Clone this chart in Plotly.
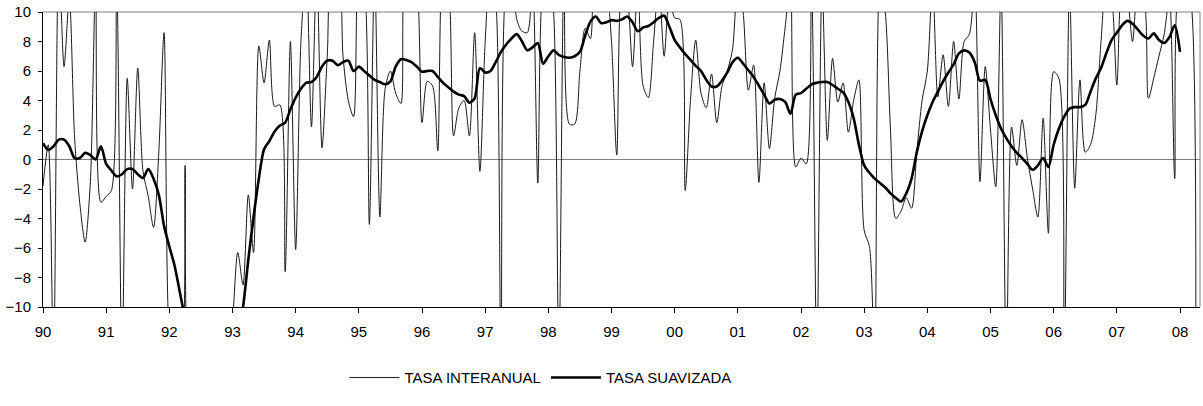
import plotly.graph_objects as go

# Monthly index: 0 = Jan 1990
year_labels = ["90", "91", "92", "93", "94", "95", "96", "97", "98", "99",
               "00", "01", "02", "03", "04", "05", "06", "07", "08"]

tasa_interanual = [
    -1.8, 1.0, -14, 14, 6.3, 11, 1.5, -3.0, -5.6, -1.5,
    12, -2.9, -2.5, -2.1, 12, -14, 5.5, -2.0, 6.2, -0.8,
    -2.5, -4.6, 0.5, 8.6, -12, -14, -14, -0.4, -14, -14,
    -14, -14, -14, -14, -14, -14, -11, -6.3, -8.5, -2.4,
    -6.3, 7.7, 5.2, 8.1, 3.6, 3.7, -7.6, 8.0, -6.1, 8,
    13, 2.2, 13, 0.8, 7, 13, 13, 7, 4, 2.9,
    13, 12, -4.4, 13, -3.9, 4.8, 6.0, 4.5, 3.8, 13,
    13, 12, 2.5, 5.3, 5.0, 0.6, 13, 12, 1.6, 3.5,
    4.0, 1.6, 8.6, -0.8, 8, 13, 11, -14, 12, 13,
    9.5, 8.7, 8.6, 12, -1.6, 12, 13, 10, -14, 13,
    2.4, 2.4, 6, 8.9, 8.2, 13, 13, 12, 8, 0.3,
    12, 11, 6.3, 12, 5, 4.2, 8, 12, 7.0, 11,
    9.6, 9.5, -2.1, 4, 8.1, 4.5, 3.5, 5.8, 2.5, 5,
    6, 7.5, 12, 10, 4.7, 6.4, -1.55, 5.2, 0.75, 4.15,
    6, 9, 12, -0.5, 0.1, -0.3, 12, -14, 12, 1.3,
    6.85, 3.9, 5.2, 1.85, 4, 5.4, -4.8, -5.9, -14, 12,
    10, 2, -4.0, -3.5, -2.6, -3.3, 0.5, 4, 6, 12,
    4.25, 7.1, 3.6, 8.0, 4.1, 8.0, 8.5, 12, -1.5, 6.3,
    2, -1.85, 12, -14, 2.2, -0.4, 2.7, 0.1, -2, -3.9,
    2.8, -5.0, 5.95, 5.5, -14, 12, -1.95, 5.4, 0.5, 1.0,
    3, 8, 12, 11, 5.05, 12, 11, 8.0, 11, 11,
    4.15, 5.5, 7, 8.5, 11, -1.3, 12, 12, 11, -14,
]

tasa_suavizada = [
    1.1, 0.65, 0.9, 1.35, 1.35, 0.9, 0.1, 0.1, 0.45, 0.3,
    0.0, 0.9, -0.3, -0.75, -1.15, -1.0, -0.65, -0.65, -1.0, -1.25,
    -0.65, -1.3, -2.4, -4.5, -5.9, -7.2, -9.0, -10.8, -12.5, -14,
    -15, -16, -16.5, -16.5, -16, -15, -13.5, -11.8, -10, -6.8,
    -3.9, -1.3, 0.7, 1.25, 1.9, 2.3, 2.5, 3.4, 4.2, 4.8,
    5.2, 5.25, 5.6, 6.3, 6.7, 6.7, 6.4, 6.6, 6.7, 6.0,
    6.3, 6.0, 5.7, 5.4, 5.25, 5.1, 5.3, 6.3, 6.8, 6.75,
    6.6, 6.3, 5.95, 6.0, 6.0, 5.6, 5.2, 4.9, 4.6, 4.4,
    4.3, 3.85, 4.15, 6.2, 5.9, 6.0, 6.6, 7.3, 7.8, 8.2,
    8.5, 8.0, 7.4, 7.6, 7.9, 6.5, 7.0, 7.4, 7.1, 6.95,
    6.9, 7.0, 7.3, 8.4, 9.35, 9.7, 9.25, 9.3, 9.45, 9.4,
    9.5, 9.7, 9.3, 8.7, 8.95, 9.05, 9.3, 9.6, 9.75, 9.0,
    8.1, 7.6, 7.15, 6.75, 6.35, 6.0, 5.4, 4.95, 4.95, 5.35,
    5.9, 6.6, 6.9, 6.5, 6.05, 5.6, 5.0, 4.4, 3.8, 4.05,
    4.1, 3.9, 3.1, 4.4, 4.5, 4.8, 5.1, 5.2, 5.25, 5.25,
    5.05, 4.8, 4.55, 3.9, 2.8, 1.0, -0.4, -0.9, -1.3, -1.6,
    -1.9, -2.3, -2.6, -2.85, -2.3, -1.3, 0.5, 1.9, 3.0, 3.9,
    4.6, 5.3, 5.9, 6.45, 7.2, 7.4, 7.25, 6.6, 5.35, 5.4,
    4.1, 3.0, 2.1, 1.45, 0.9, 0.45, 0.1, -0.3, -0.7, -0.4,
    0.1, -0.5, 1.0, 2.1, 2.9, 3.45, 3.55, 3.55, 3.7, 4.6,
    5.5, 6.2, 7.2, 8.1, 8.6, 9.1, 9.4, 9.2, 8.8, 8.4,
    8.2, 8.55, 8.1, 7.9, 8.3, 9.1, 7.3,
]

y_ticks = list(range(-10, 11, 2))

months_i = list(range(len(tasa_interanual)))
months_s = list(range(len(tasa_suavizada)))
tick_pos = [12 * i for i in range(len(year_labels))]

FONT = "Liberation Sans, Arial, sans-serif"

fig = go.Figure()
fig.add_trace(go.Scatter(
    x=months_i, y=tasa_interanual, mode="lines", name="TASA INTERANUAL",
    line=dict(color="#1a1a1a", width=1, shape="spline", smoothing=0.8),
))
fig.add_trace(go.Scatter(
    x=months_s, y=tasa_suavizada, mode="lines", name="TASA SUAVIZADA",
    line=dict(color="#000000", width=2.6, shape="spline", smoothing=0.8),
))

fig.update_layout(
    width=1203, height=406,
    margin=dict(l=43, r=3, t=12, b=99, autoexpand=False),
    paper_bgcolor="white", plot_bgcolor="white",
    font=dict(family=FONT, size=15, color="#000000"),
    showlegend=True,
    legend=dict(orientation="h", x=0.43, xanchor="center", y=-0.24, yanchor="middle",
                font=dict(family=FONT, size=15), itemwidth=50, tracegroupgap=0,
                bgcolor="rgba(0,0,0,0)"),
    xaxis=dict(range=[0, 219.8], tickmode="array", tickvals=tick_pos, ticktext=year_labels,
               showgrid=False, zeroline=False, showline=True, linecolor="#000000", linewidth=1,
               ticks="outside", ticklen=5, tickcolor="#000000", automargin=False,
               ticklabelstandoff=6,
               tickfont=dict(family=FONT, size=15)),
    yaxis=dict(range=[-10, 10], tickmode="array", tickvals=y_ticks,
               showgrid=False, zeroline=True, zerolinecolor="#808080", zerolinewidth=1,
               showline=True, linecolor="#000000", linewidth=1,
               ticks="outside", ticklen=4, tickcolor="#000000", automargin=False,
               ticklabelstandoff=4,
               tickfont=dict(family=FONT, size=15)),
)

# Plot area border (top and right) in grey
fig.add_shape(type="line", xref="paper", yref="paper", x0=0, x1=1, y0=1, y1=1,
              line=dict(color="#808080", width=1), layer="below")
fig.add_shape(type="line", xref="paper", yref="paper", x0=1, x1=1, y0=0, y1=1,
              line=dict(color="#808080", width=1), layer="below")

fig.write_html("out.html",
               config={"displayModeBar": False},
               post_script="document.body.style.margin='0';document.body.style.overflow='hidden';")
